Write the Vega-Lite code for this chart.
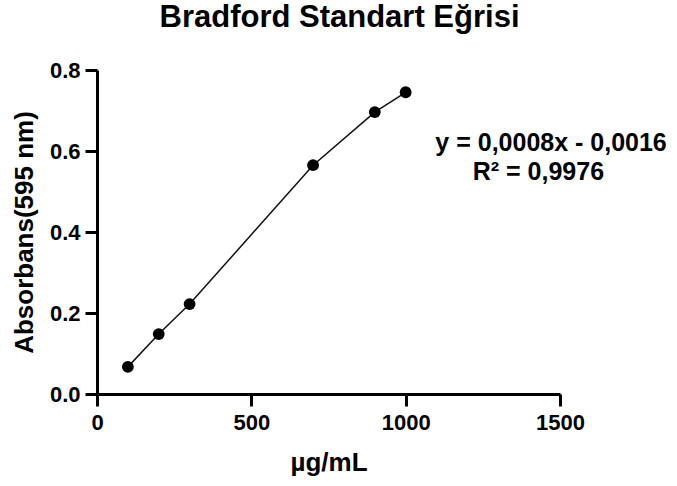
{
  "$schema": "https://vega.github.io/schema/vega-lite/v6.json",
  "autosize": {"type": "none"},
  "padding": {"left": 97, "top": 70, "right": 117, "bottom": 92},
  "width": 463,
  "height": 324,
  "background": "white",
  "title": {
    "text": "Bradford Standart Eğrisi",
    "font": "Liberation Sans",
    "fontSize": 31,
    "fontWeight": "bold",
    "color": "black",
    "anchor": "middle",
    "dx": 11,
    "offset": 25
  },
  "config": {
    "view": {"stroke": null}
  },
  "data": {
    "values": [
      {"conc": 100, "abs": 0.067},
      {"conc": 200, "abs": 0.148},
      {"conc": 300, "abs": 0.222},
      {"conc": 700, "abs": 0.565},
      {"conc": 900, "abs": 0.696},
      {"conc": 1000, "abs": 0.745}
    ]
  },
  "layer": [
    {
      "mark": {"type": "line", "color": "#111111", "strokeWidth": 1.5},
      "encoding": {
        "x": {
          "field": "conc",
          "type": "quantitative",
          "scale": {"domain": [0, 1500], "nice": false},
          "axis": {
            "values": [0, 500, 1000, 1500], "format": "d", "title": "µg/mL",
            "labelPadding": 6, "titlePadding": 16, "labelFlush": false, "grid": false,
            "labelFont": "Liberation Sans", "labelFontSize": 22, "labelFontWeight": "bold", "labelColor": "black",
            "titleFont": "Liberation Sans", "titleFontSize": 26, "titleFontWeight": "bold", "titleColor": "black",
            "domainColor": "black", "domainWidth": 3, "tickColor": "black", "tickWidth": 3, "tickSize": 12
          }
        },
        "y": {
          "field": "abs",
          "type": "quantitative",
          "scale": {"domain": [0, 0.8], "nice": false},
          "axis": {
            "values": [0, 0.2, 0.4, 0.6, 0.8], "format": ".1f", "title": "Absorbans(595 nm)",
            "labelPadding": 5, "titlePadding": 12, "labelFlush": false, "grid": false,
            "labelFont": "Liberation Sans", "labelFontSize": 22, "labelFontWeight": "bold", "labelColor": "black",
            "titleFont": "Liberation Sans", "titleFontSize": 26, "titleFontWeight": "bold", "titleColor": "black",
            "domainColor": "black", "domainWidth": 3, "tickColor": "black", "tickWidth": 3, "tickSize": 12
          }
        }
      }
    },
    {
      "mark": {"type": "point", "filled": true, "color": "black", "size": 140, "opacity": 1},
      "encoding": {
        "x": {"field": "conc", "type": "quantitative"},
        "y": {"field": "abs", "type": "quantitative"}
      }
    },
    {
      "data": {"values": [{"label": "y = 0,0008x - 0,0016"}]},
      "mark": {"type": "text", "font": "Liberation Sans", "fontSize": 25, "fontWeight": "bold", "color": "black", "align": "center", "baseline": "middle", "clip": false},
      "encoding": {
        "text": {"field": "label"},
        "x": {"datum": 1471, "type": "quantitative"},
        "y": {"datum": 0.62, "type": "quantitative"}
      }
    },
    {
      "data": {"values": [{"label": "R² = 0,9976"}]},
      "mark": {"type": "text", "font": "Liberation Sans", "fontSize": 25, "fontWeight": "bold", "color": "black", "align": "center", "baseline": "middle", "clip": false},
      "encoding": {
        "text": {"field": "label"},
        "x": {"datum": 1430, "type": "quantitative"},
        "y": {"datum": 0.548, "type": "quantitative"}
      }
    }
  ]
}
